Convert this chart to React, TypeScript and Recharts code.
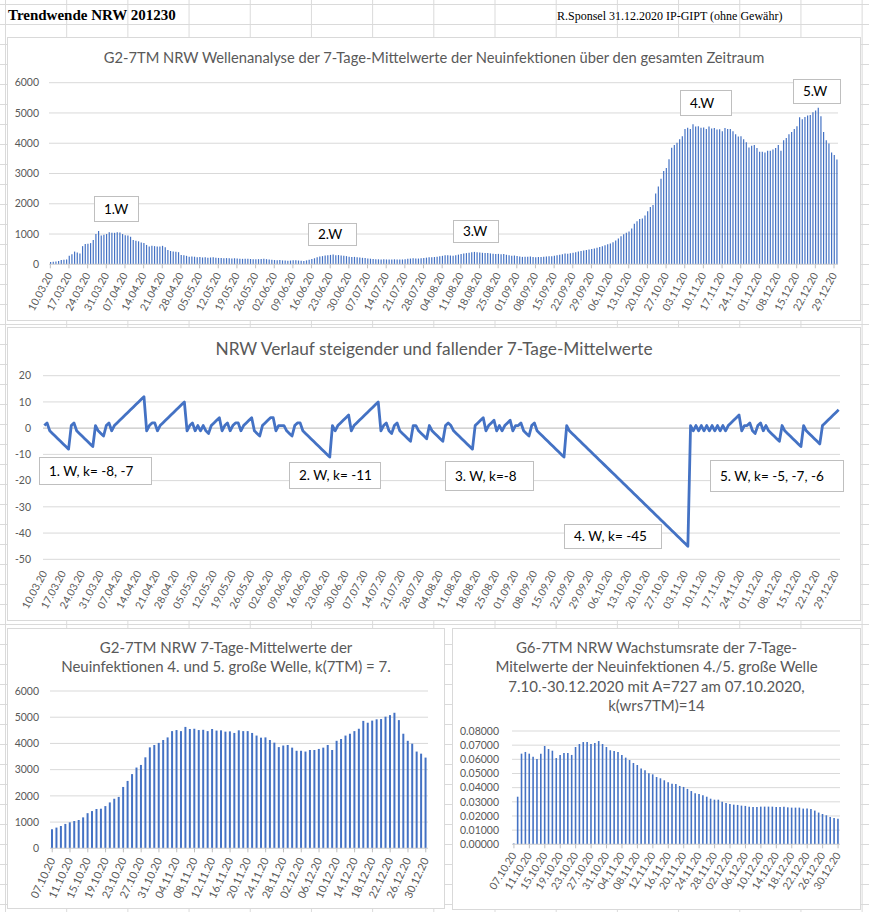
import React from 'react';
import { BarChart, Bar, LineChart, Line, XAxis, YAxis, CartesianGrid, ReferenceLine } from 'recharts';

const FONT = 'Lato, "Open Sans", Arial, sans-serif';
const SERIF = '"Liberation Serif", "Times New Roman", serif';
const BLUE = '#4472C4';
const AXIS_TEXT = '#595959';
const GRID = '#d9d9d9';
const SHEET_LINE = '#dadada';

// ---------- texts ----------
const headerTitle = 'Trendwende NRW 201230';
const headerCredit = 'R.Sponsel 31.12.2020 IP-GIPT (ohne Gewähr)';
const chart1Title = 'G2-7TM NRW Wellenanalyse der 7-Tage-Mittelwerte der Neuinfektionen über den gesamten Zeitraum';
const chart2Title = 'NRW Verlauf steigender und fallender 7-Tage-Mittelwerte';
const chart3TitleLines = ['G2-7TM NRW 7-Tage-Mittelwerte der', 'Neuinfektionen 4. und 5. große Welle, k(7TM) = 7.'];
const chart4TitleLines = [
  'G6-7TM NRW Wachstumsrate der 7-Tage-',
  'Mitelwerte der Neuinfektionen 4./5. große Welle',
  '7.10.-30.12.2020 mit A=727 am 07.10.2020,',
  'k(wrs7TM)=14',
];
const waveLabels = ['1.W', '2.W', '3.W', '4.W', '5.W'];
const trendLabels = ['1. W, k= -8, -7', '2. W, k= -11', '3. W, k=-8', '4. W, k= -45', '5. W, k= -5, -7, -6'];

// ---------- tick labels ----------
const wholeTicks = [
  '10.03.20', '17.03.20', '24.03.20', '31.03.20', '07.04.20', '14.04.20', '21.04.20', '28.04.20',
  '05.05.20', '12.05.20', '19.05.20', '26.05.20', '02.06.20', '09.06.20', '16.06.20', '23.06.20',
  '30.06.20', '07.07.20', '14.07.20', '21.07.20', '28.07.20', '04.08.20', '11.08.20', '18.08.20',
  '25.08.20', '01.09.20', '08.09.20', '15.09.20', '22.09.20', '29.09.20', '06.10.20', '13.10.20',
  '20.10.20', '27.10.20', '03.11.20', '10.11.20', '17.11.20', '24.11.20', '01.12.20', '08.12.20',
  '15.12.20', '22.12.20', '29.12.20',
];
const waveTicks = [
  '07.10.20', '11.10.20', '15.10.20', '19.10.20', '23.10.20', '27.10.20', '31.10.20', '04.11.20',
  '08.11.20', '12.11.20', '16.11.20', '20.11.20', '24.11.20', '28.11.20', '02.12.20', '06.12.20',
  '10.12.20', '14.12.20', '18.12.20', '22.12.20', '26.12.20', '30.12.20',
];
const casesTicks = [0, 1000, 2000, 3000, 4000, 5000, 6000];
const trendTicks = [-50, -40, -30, -20, -10, 0, 10, 20];
const rateTicks = [0, 0.01, 0.02, 0.03, 0.04, 0.05, 0.06, 0.07, 0.08];

// ---------- values ----------
// 7-Tage-Mittelwerte 10.03.2020 - 06.10.2020
const earlyDaily7TM = [
  80, 85, 90, 110, 140, 150, 160, 280, 330, 420,
  390, 360, 600, 670, 680, 700, 800, 1000, 1100, 950,
  980, 1000, 1060, 1045, 1040, 1055, 1050, 1000, 960, 950,
  910, 800, 775, 760, 720, 700, 640, 590, 610, 600,
  590, 585, 610, 560, 470, 440, 425, 415, 400, 310,
  300, 280, 250, 260, 250, 235, 240, 225, 230, 220,
  225, 230, 220, 210, 205, 200, 205, 200, 195, 200,
  195, 185, 180, 185, 180, 175, 170, 165, 170, 175,
  180, 170, 160, 150, 140, 135, 140, 130, 125, 120,
  125, 130, 135, 125, 115, 110, 130, 150, 175, 200,
  230, 260, 270, 290, 300, 310, 320, 300, 305, 290,
  280, 270, 250, 240, 245, 235, 225, 215, 205, 195,
  185, 175, 170, 165, 160, 165, 160, 155, 160, 165,
  160, 155, 160, 170, 180, 190, 200, 195, 190, 200,
  210, 220, 235, 230, 240, 250, 265, 280, 300, 295,
  290, 285, 300, 320, 340, 355, 370, 385, 400, 410,
  400, 390, 380, 370, 375, 360, 350, 340, 345, 335,
  340, 315, 300, 285, 290, 275, 260, 245, 248, 252,
  256, 245, 235, 240, 245, 250, 255, 262, 270, 280,
  295, 315, 335, 355, 350, 365, 385, 400, 420, 440,
  455, 470, 490, 505, 525, 545, 570, 600, 630, 660,
  690,
];
// 7-Tage-Mittelwerte 07.10.2020 - 30.12.2020 (4./5. Welle)
const wave45Daily7TM = [
  727, 790, 850, 930, 990, 1040, 1080, 1180, 1340, 1420,
  1500, 1510, 1610, 1750, 1890, 1960, 2340, 2570, 2830, 3080,
  3180, 3470, 3850, 3940, 4020, 4130, 4230, 4470, 4510, 4470,
  4630, 4550, 4560, 4510, 4520, 4470, 4550, 4490, 4500, 4450,
  4460, 4400, 4500, 4470, 4470, 4400, 4300, 4220, 4230, 4130,
  4030, 3860, 3920, 3940, 3840, 3720, 3720, 3690, 3750, 3750,
  3790, 3840, 3940, 3750, 4100, 4170, 4300, 4370, 4470, 4560,
  4860, 4790, 4870, 4920, 4930, 5020, 5080, 5170, 4890, 4370,
  4100, 3990, 3690, 3610, 3460,
];
// Zähler steigender (negativ) / fallender (positiv) 7-Tage-Mittelwerte
const trendCounter = [
  1, 2, -1, -2, -3, -4, -5, -6, -7, -8,
  1, 2, -1, -2, -3, -4, -5, -6, -7, 1,
  -1, -2, -3, 1, 2, -1, 1, 2, 3, 4,
  5, 6, 7, 8, 9, 10, 11, 12, -1, 1,
  2, 2, -1, 1, 2, 3, 4, 5, 6, 7,
  8, 9, 10, -1, 1, 2, -1, 1, -1, 1,
  -1, -2, 1, 2, 3, 4, -1, 1, 2, -1,
  1, 2, 2, -1, 1, 2, 3, 4, -1, -2,
  -3, 1, 2, 3, 4, 4, -1, 1, 1, 1,
  -1, -2, -3, 1, 2, 2, -1, -2, -3, -4,
  -5, -6, -7, -8, -9, -10, -11, 1, -1, 1,
  2, 3, 4, 5, -1, 1, 2, 3, 4, 5,
  6, 7, 8, 9, 10, -1, 1, 2, -1, -2,
  1, 2, -1, -2, -3, -4, -5, 1, 1, -1,
  -2, -3, -4, 1, -1, -2, -3, -4, -5, 1,
  2, 1, -1, -2, -3, -4, -5, -6, -7, -8,
  1, 2, 3, 4, -1, 1, 2, 3, -1, 1,
  -1, 1, 2, 3, -1, 1, 1, 2, -1, -2,
  -3, 1, 2, -1, -2, -3, -4, -5, -6, -7,
  -8, -9, -10, -11, 1, -1, -2, -3, -4, -5,
  -6, -7, -8, -9, -10, -11, -12, -13, -14, -15,
  -16, -17, -18, -19, -20, -21, -22, -23, -24, -25,
  -26, -27, -28, -29, -30, -31, -32, -33, -34, -35,
  -36, -37, -38, -39, -40, -41, -42, -43, -44, -45,
  1, -1, 1, -1, 1, -1, 1, -1, 1, -1,
  1, -1, 1, -1, 1, 2, 3, 4, 5, -1,
  1, 1, 2, -1, -2, 1, 2, -1, 1, -1,
  -2, -3, -4, -5, 1, -1, -2, -3, -4, -5,
  -6, -7, 1, -1, -2, -3, -4, -5, -6, 1,
  2, 3, 4, 5, 6, 7,
];
// Wachstumsrate 07.10.2020 - 30.12.2020
const growthRate = [
  0.0005, 0.0336, 0.0640, 0.0652, 0.0640, 0.0619, 0.0602, 0.0640, 0.0694, 0.0673,
  0.0661, 0.0609, 0.0631, 0.0645, 0.0645, 0.0631, 0.0687, 0.0708, 0.0722, 0.0722,
  0.0708, 0.0715, 0.0729, 0.0708, 0.0687, 0.0664, 0.0659, 0.0652, 0.0631, 0.0612,
  0.0595, 0.0574, 0.0560, 0.0536, 0.0522, 0.0501, 0.0494, 0.0475, 0.0466, 0.0452,
  0.0438, 0.0428, 0.0426, 0.0412, 0.0405, 0.0391, 0.0376, 0.0360, 0.0355, 0.0346,
  0.0336, 0.0322, 0.0315, 0.0315, 0.0301, 0.0292, 0.0285, 0.0280, 0.0278, 0.0273,
  0.0271, 0.0266, 0.0264, 0.0264, 0.0266, 0.0266, 0.0266, 0.0266, 0.0264, 0.0264,
  0.0266, 0.0261, 0.0259, 0.0259, 0.0259, 0.0252, 0.0252, 0.0249, 0.0238, 0.0224,
  0.0214, 0.0205, 0.0193, 0.0186, 0.0181,
];

// ---------- categories ----------
function buildDayLabels(startIso: string, count: number): string[] {
  const out: string[] = [];
  const d = new Date(startIso + 'T00:00:00Z');
  for (let i = 0; i < count; i++) {
    const dd = String(d.getUTCDate()).padStart(2, '0');
    const mm = String(d.getUTCMonth() + 1).padStart(2, '0');
    const yy = String(d.getUTCFullYear()).slice(2);
    out.push(`${dd}.${mm}.${yy}`);
    d.setUTCDate(d.getUTCDate() + 1);
  }
  return out;
}
const allMeans = [...earlyDaily7TM, ...wave45Daily7TM];
const wholeDays = buildDayLabels('2020-03-10', allMeans.length);
const wholeData = wholeDays.map((day, i) => ({ day, mean7: allMeans[i], k: trendCounter[i] }));
const waveDays = wholeDays.slice(earlyDaily7TM.length);
const waveData = waveDays.map((day, i) => ({ day, mean7: wave45Daily7TM[i], rate: growthRate[i] }));

// ---------- helpers ----------
function makeTick(angle: number, fontSize: number) {
  return (props: any) => {
    const { x, y, payload } = props;
    return (
      <g transform={`translate(${x},${y})`}>
        <text x={0} y={0} dy="0.35em" textAnchor="end" transform={`rotate(${angle})`}
          fill={AXIS_TEXT} fontSize={fontSize} fontFamily={FONT}>{payload.value}</text>
      </g>
    );
  };
}
const tick1 = makeTick(-62, 10.5);
const tick2 = makeTick(-62, 10.5);
const tick3 = makeTick(-65, 11);
const tick4 = makeTick(-58, 10.5);
const yTickStyle = { fill: AXIS_TEXT, fontSize: 10.5, fontFamily: FONT };

function Panel({ left, top, width, height, children }: any) {
  return (
    <div style={{ position: 'absolute', left, top, width, height, boxSizing: 'border-box', border: '1px solid #d9d9d9', background: '#fff' }}>
      <div style={{ position: 'absolute', left: -1, top: -1, width, height }}>{children}</div>
    </div>
  );
}

function Title({ lines, width, top, fontSize, lineHeight }: any) {
  return (
    <div style={{ position: 'absolute', left: 0, top, width, textAlign: 'center', color: AXIS_TEXT, fontFamily: FONT, fontSize, lineHeight: `${lineHeight}px`, whiteSpace: 'nowrap', zIndex: 2 }}>
      {lines.map((l: string, i: number) => <div key={i}>{l}</div>)}
    </div>
  );
}

function NoteBox({ left, top, width, height, text }: any) {
  return (
    <div style={{ position: 'absolute', left, top, width, height, boxSizing: 'border-box', border: '1px solid #bfbfbf', background: '#fff', color: '#000', fontFamily: FONT, fontSize: 13.5, lineHeight: `${height - 2}px`, paddingLeft: 9, whiteSpace: 'nowrap', zIndex: 3 }}>
      {text}
    </div>
  );
}

const waveBoxes = [
  { left: 94, top: 196, width: 45, height: 26 },
  { left: 308, top: 223, width: 49, height: 23 },
  { left: 453, top: 220, width: 46, height: 23 },
  { left: 680, top: 90, width: 52, height: 26 },
  { left: 793, top: 79, width: 48, height: 25 },
];
const trendBoxes = [
  { left: 39, top: 457, width: 113, height: 28 },
  { left: 289, top: 462, width: 92, height: 27 },
  { left: 445, top: 461, width: 89, height: 30 },
  { left: 564, top: 524, width: 98, height: 25 },
  { left: 710, top: 460, width: 134, height: 32 },
];

export default function App() {
  return (
    <div style={{ position: 'relative', width: 869, height: 912, overflow: 'hidden', background: '#fff' }}>
      <style>{`body{margin:0;}`}</style>
      <div style={{
        position: 'absolute', left: 0, top: 0, width: 869, height: 912,
        backgroundImage: `linear-gradient(to right, ${SHEET_LINE} 1px, transparent 1px), linear-gradient(to bottom, ${SHEET_LINE} 1px, transparent 1px)`,
        backgroundSize: '61.2px 20px', backgroundPosition: '5px 4px',
      }} />
      <div style={{ position: 'absolute', left: 8, top: 7, fontFamily: SERIF, fontWeight: 'bold', fontSize: 15, color: '#000', whiteSpace: 'nowrap' }}>{headerTitle}</div>
      <div style={{ position: 'absolute', left: 557, top: 9, fontFamily: SERIF, fontSize: 12, color: '#000', whiteSpace: 'nowrap' }}>{headerCredit}</div>

      {/* Chart 1 */}
      <Panel left={7} top={37} width={854} height={284}>
        <Title lines={[chart1Title]} width={854} top={11} fontSize={14.7} lineHeight={18} />
        <BarChart width={854} height={284} data={wholeData} margin={{ top: 45.7, right: 23, bottom: 0, left: 0 }} barCategoryGap={0}>
          <CartesianGrid vertical={false} stroke={GRID} />
          <XAxis dataKey="day" ticks={wholeTicks} interval={0} height={56.7} axisLine={{ stroke: GRID }} tickLine={{ stroke: '#bfbfbf' }} tickSize={4} tickMargin={5} tick={tick1} />
          <YAxis domain={[0, 6000]} ticks={casesTicks} interval={0} width={42} axisLine={false} tickLine={false} tickSize={0} tickMargin={10} tick={yTickStyle} />
          <Bar dataKey="mean7" fill={BLUE} barSize={1.2} isAnimationActive={false} />
        </BarChart>
      </Panel>

      {/* Chart 2 */}
      <Panel left={7} top={327} width={854} height={294}>
        <Title lines={[chart2Title]} width={854} top={10} fontSize={17.3} lineHeight={24} />
        <LineChart width={854} height={294} data={wholeData} margin={{ top: 48.7, right: 21, bottom: 0, left: 0 }}>
          <CartesianGrid vertical={false} stroke={GRID} />
          <XAxis dataKey="day" ticks={wholeTicks} interval={0} height={61.7} axisLine={false} tickLine={false} tickSize={0} tickMargin={12} padding={{ left: 1.35, right: 1.35 }} tick={tick2} />
          <YAxis domain={[-50, 20]} ticks={trendTicks} interval={0} width={36} axisLine={false} tickLine={false} tickSize={0} tickMargin={12} tick={yTickStyle} />
          <ReferenceLine y={0} stroke="#c8c8c8" />
          <Line dataKey="k" type="linear" stroke={BLUE} strokeWidth={2.8} dot={false} activeDot={false} isAnimationActive={false} strokeLinejoin="round" />
        </LineChart>
      </Panel>

      {/* Chart 3 */}
      <Panel left={7} top={628} width={438} height={281}>
        <Title lines={chart3TitleLines} width={438} top={10} fontSize={15} lineHeight={19.2} />
        <BarChart width={438} height={281} data={waveData} margin={{ top: 63, right: 17, bottom: 0, left: 0 }} barCategoryGap={0}>
          <CartesianGrid vertical={false} stroke={GRID} />
          <XAxis dataKey="day" ticks={waveTicks} interval={0} height={60.7} axisLine={{ stroke: GRID }} tickLine={{ stroke: '#bfbfbf' }} tickSize={4} tickMargin={6} tick={tick3} />
          <YAxis domain={[0, 6000]} ticks={casesTicks} interval={0} width={43} axisLine={false} tickLine={false} tickSize={0} tickMargin={11} tick={yTickStyle} />
          <Bar dataKey="mean7" fill={BLUE} barSize={2} isAnimationActive={false} />
        </BarChart>
      </Panel>

      {/* Chart 4 */}
      <Panel left={452} top={628} width={409} height={282}>
        <Title lines={chart4TitleLines} width={409} top={10} fontSize={15} lineHeight={19.4} />
        <BarChart width={409} height={282} data={waveData} margin={{ top: 103, right: 21, bottom: 0, left: 0 }} barCategoryGap={0}>
          <CartesianGrid vertical={false} stroke={GRID} />
          <XAxis dataKey="day" ticks={waveTicks} interval={0} height={65.7} axisLine={{ stroke: GRID }} tickLine={{ stroke: '#bfbfbf' }} tickSize={4} tickMargin={5} tick={tick4} />
          <YAxis domain={[0, 0.08]} ticks={rateTicks} interval={0} width={60} axisLine={false} tickLine={false} tickSize={0} tickMargin={13} tick={yTickStyle} tickFormatter={(v: number) => v.toFixed(5)} />
          <Bar dataKey="rate" fill={BLUE} barSize={1.6} isAnimationActive={false} />
        </BarChart>
      </Panel>

      {waveBoxes.map((b, i) => <NoteBox key={'w' + i} {...b} text={waveLabels[i]} />)}
      {trendBoxes.map((b, i) => <NoteBox key={'t' + i} {...b} text={trendLabels[i]} />)}
    </div>
  );
}
